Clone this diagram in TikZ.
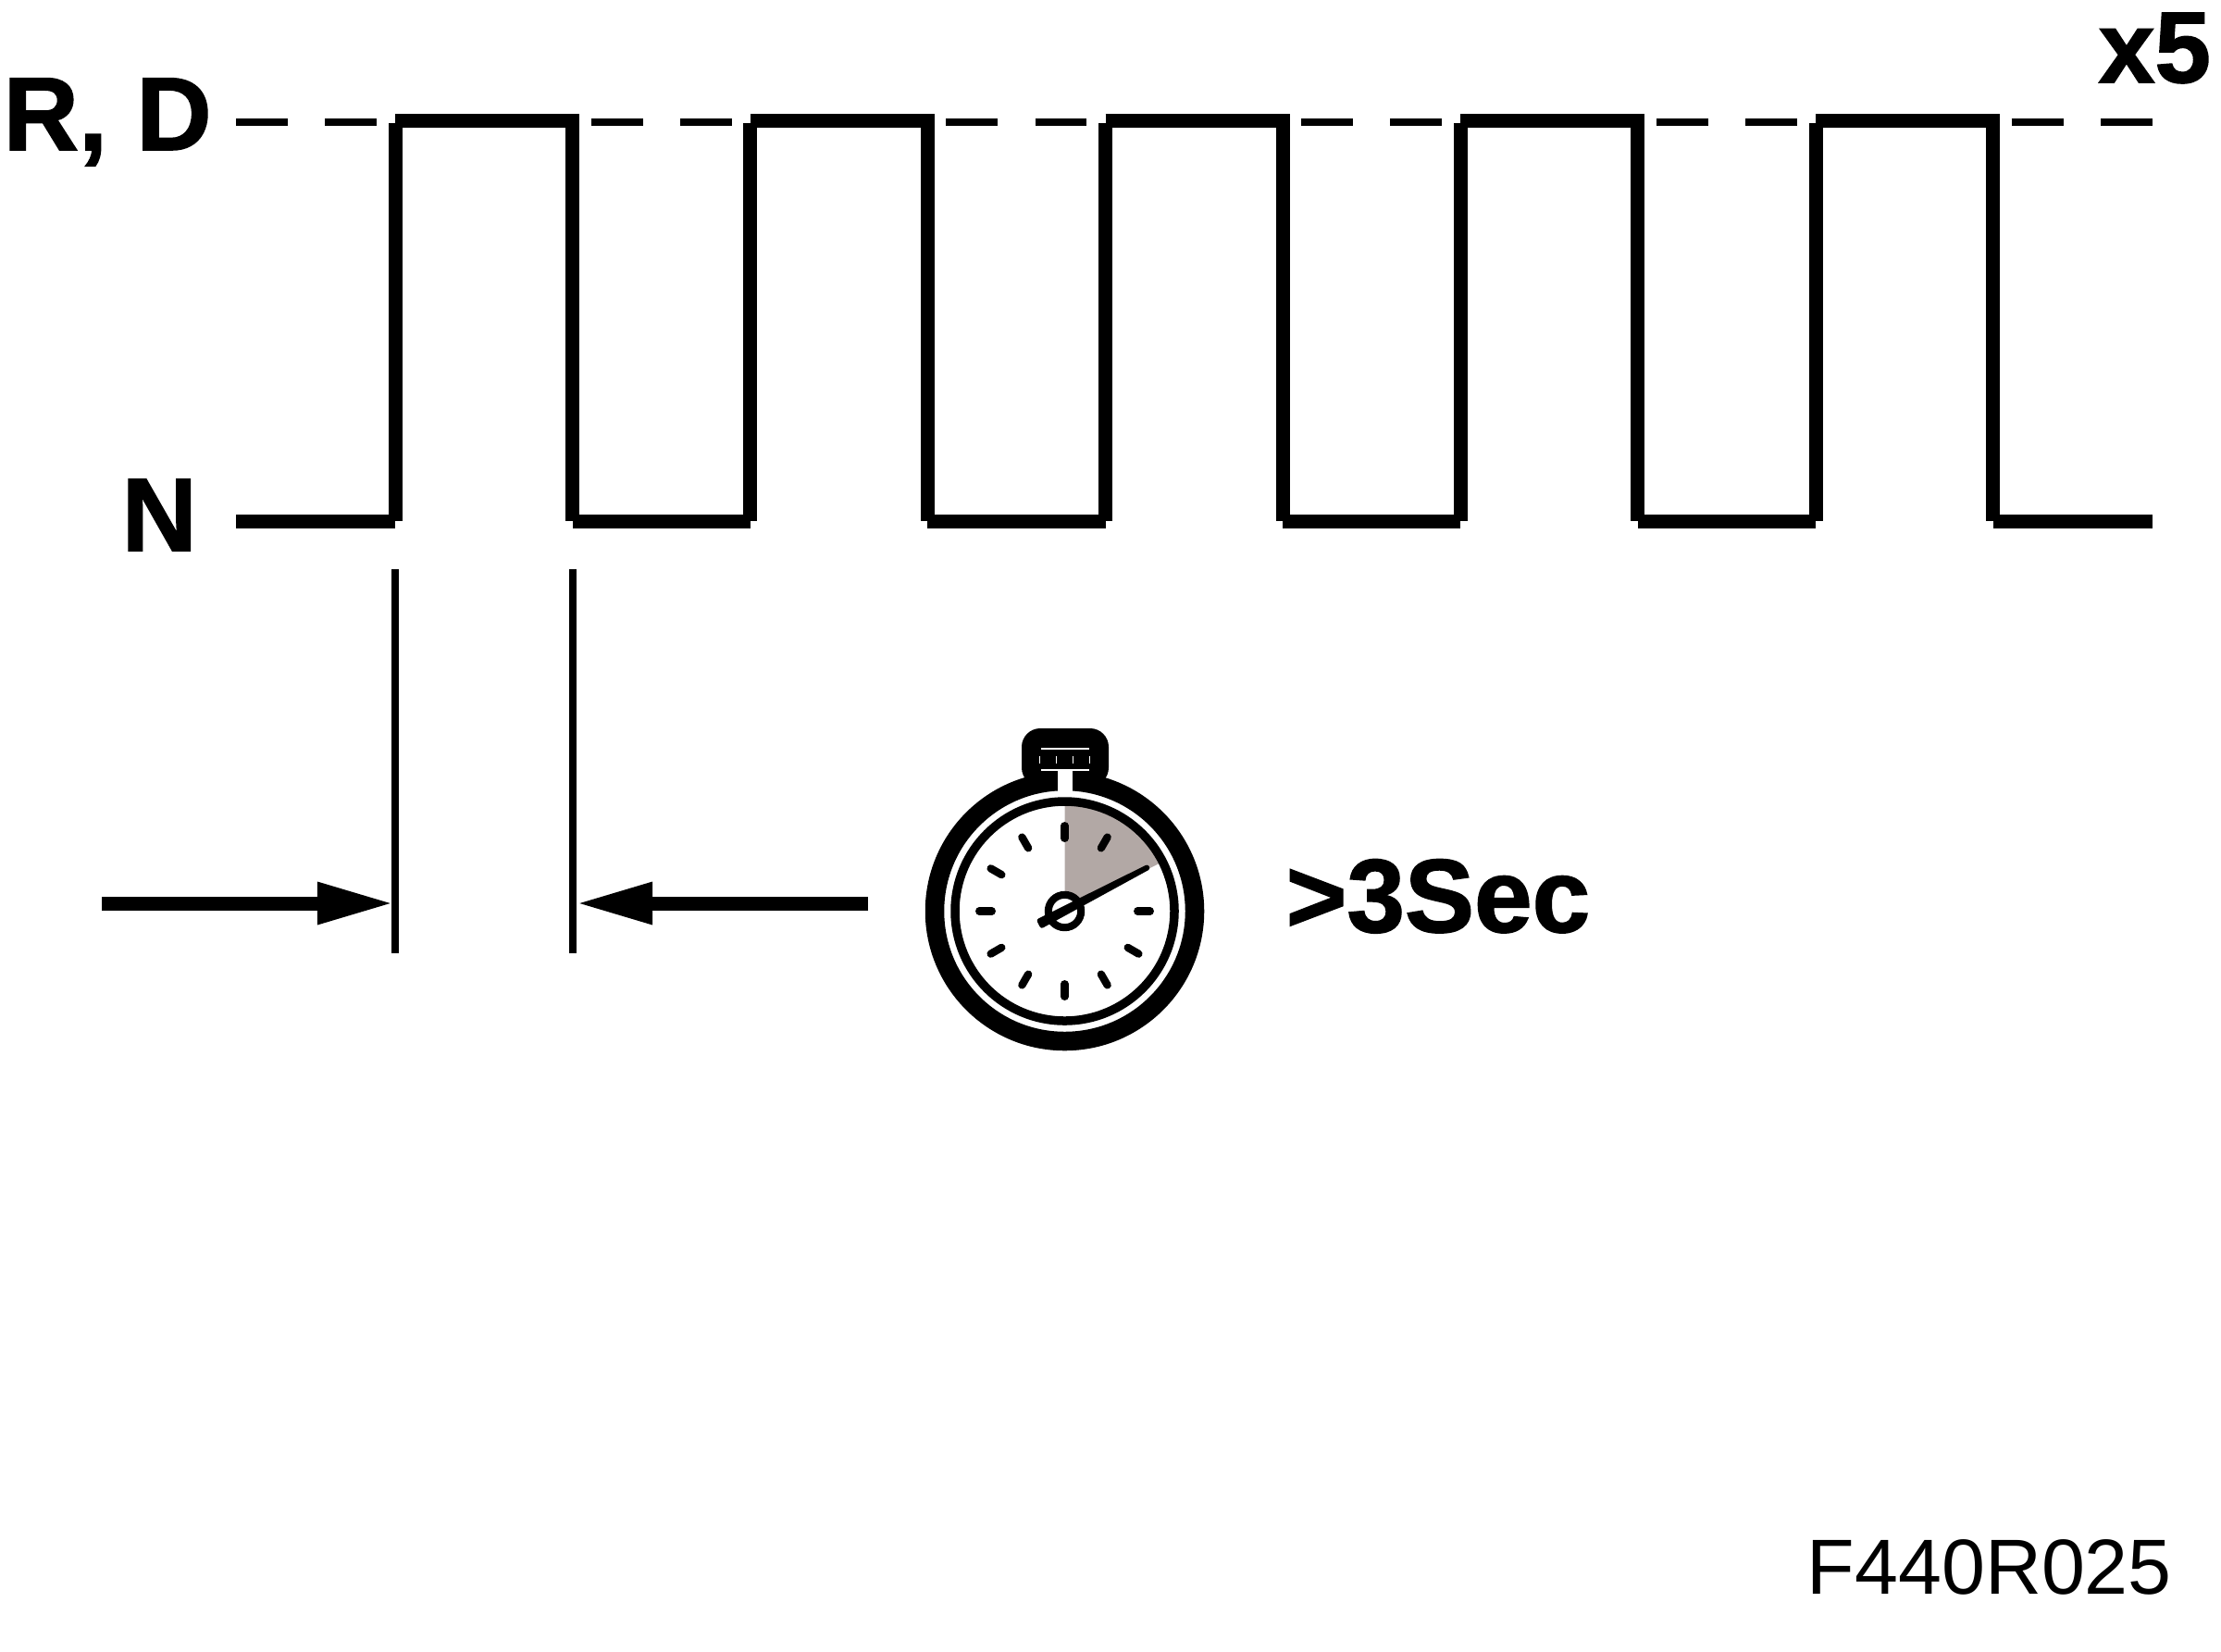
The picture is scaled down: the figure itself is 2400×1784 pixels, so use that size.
\documentclass[tikz,border=0pt]{standalone}
\usepackage{fontspec}
\setmainfont[BoldFeatures={FakeBold=1.4}]{Liberation Sans}
\usetikzlibrary{arrows.meta}
\definecolor{sectorgray}{HTML}{B2A8A5}
\tikzset{
 biglabel/.style={anchor=base west,inner sep=0pt,font=\fontsize{32}{32}\selectfont\bfseries},
 signal/.style={line width=.15cm},
 dashline/.style={line width=.08cm,dash pattern=on .56cm off .40cm},
 limit/.style={line width=.075cm},
 pointer/.style={line width=.15cm,-{Triangle[length=.83cm,width=.42cm]}},
 tickmark/.style={line width=.083cm,line cap=round}
}
\begin{document}
\begin{tikzpicture}[x=.01cm,y=-.01cm]
 \useasboundingbox (0,0) rectangle (2400,1784);
 % the five pulses
 \draw[dashline] (255,131.5)--(407,131.5);
 \draw[signal] (255,563)--(427,563);
 \foreach \i in {0,...,4} {
  \pgfmathsetmacro{\up}{427+383.75*\i}
  \pgfmathsetmacro{\down}{\up+191.7}
  \pgfmathsetmacro{\next}{\up+383.75}
  \pgfmathsetmacro{\stop}{ifthenelse(\i==4,2326,\next)}
  \draw[signal] (\up,133)--(\up,563);
  \draw[signal] (\down,130.5)--(\down,563);
  \draw[signal] (\up,130.5)--(\down+7.5,130.5);
  \draw[signal] (\down,563)--(\stop,563);
  \draw[dashline] (\down+20,131.5)--(\down+172,131.5);
 }
 \node[biglabel] (rd) at (3,162) {R, D};
 \node[biglabel] (n) at (131,595) {N};
 \node[biglabel,font=\fontsize{31}{31}\selectfont\bfseries] (times) at (2267,89) {x5};
 % time span
 \coordinate (leftstart) at (110,976);
 \coordinate (lefttip) at (426,976);
 \coordinate (rightstart) at (938,976);
 \coordinate (righttip) at (622,976);
 \draw[limit] (427,615)--(427,1030);
 \draw[limit] (619,615)--(619,1030);
 \draw[pointer] (leftstart)--(lefttip);
 \draw[pointer] (rightstart)--(righttip);
 % stopwatch
 \begin{scope}[shift={(1150.5,984.5)}]
  \fill[rounded corners=.2cm] (-46.5,-197.5) rectangle (47.5,-135);
  \draw[white,line width=.02cm] (-26,-175.5)--(26,-175.5);
  \draw[white,line width=.012cm] (-26,-152.5)--(26,-152.5);
  \foreach \x in {-27,-9,9,27} \draw[white,line width=.012cm] (\x,-167.5)--(\x,-159.5);
  \draw[line width=.205cm] (0,0) circle (140.5);
  \fill[white] (-8,-152.5) rectangle (8,-128);
  \fill[sectorgray] (0,0)--(0,-115) arc[start angle=-90,end angle=-26.8,radius=115]--cycle;
  \draw[line width=.095cm] (0,0) circle (118.5);
  \foreach \a in {0,30,90,120,150,180,210,240,270,300,330}
   \draw[tickmark] (90-\a:78.7 and -78.7)--(90-\a:92.3 and -92.3);
  \filldraw[fill=white,line width=.08cm] (0,0) circle (17.7);
  \filldraw[line width=.05cm,line join=round] (-27.4,10.3)--(-24.6,15.7)--(89.2,-46.55)--(88.8,-47.45)--cycle;
 \end{scope}
 \node[biglabel] (limitlabel) at (1389,1007) {>3Sec};
 \node[anchor=base west,inner sep=0pt,font=\fontsize{24}{24}\selectfont] (code) at (1952,1722) {F440R025};
\end{tikzpicture}
\end{document}
